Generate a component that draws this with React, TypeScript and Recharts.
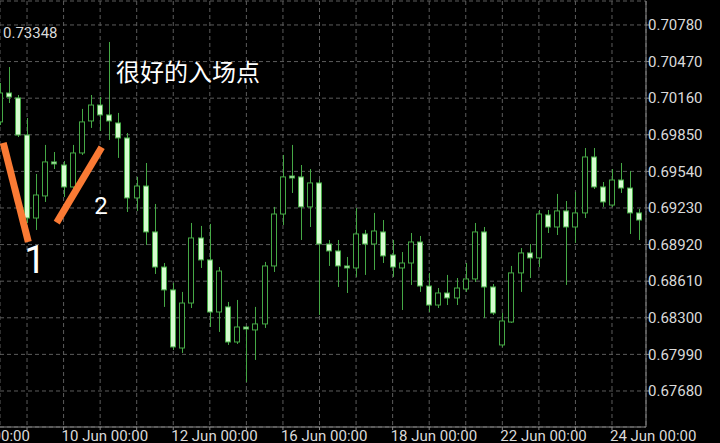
import React from 'react';
import { ComposedChart, Bar, XAxis, YAxis, CartesianGrid, ReferenceLine } from 'recharts';

// H4 candles, 8 Jun .. 24 Jun
const opens = [
  0.69959, 0.70204, 0.70162, 0.69848, 0.69145, 0.69332, 0.69620, 0.69594, 0.69408, 0.69696,
  0.69967, 0.70102, 0.70018, 0.69950, 0.69823, 0.69315, 0.69416, 0.69027, 0.68730, 0.68536,
  0.68044, 0.68425, 0.68976, 0.68790, 0.68349, 0.68392, 0.68095, 0.68222, 0.68197, 0.68248,
  0.68739, 0.69179, 0.69501, 0.69493, 0.69239, 0.69442, 0.68925, 0.68866, 0.68739, 0.68722,
  0.69010, 0.68925, 0.69027, 0.68832, 0.68722, 0.68764, 0.68942, 0.68569, 0.68408, 0.68510,
  0.68468, 0.68544, 0.68629, 0.69027, 0.68561, 0.68070, 0.68264, 0.68680, 0.68849, 0.68807,
  0.69171, 0.69069, 0.69205, 0.69069, 0.69188, 0.69662, 0.69408, 0.69255, 0.69467, 0.69399,
  0.69188,
];
const highs = [
  0.70289, 0.70424, 0.70187, 0.69992, 0.69518, 0.69764, 0.69704, 0.69628, 0.69764, 0.70069,
  0.70187, 0.70170, 0.70636, 0.70035, 0.69865, 0.69493, 0.69611, 0.69264, 0.68764, 0.68595,
  0.68519, 0.69103, 0.69078, 0.69095, 0.68730, 0.68434, 0.68451, 0.68231, 0.68392, 0.68773,
  0.69239, 0.69679, 0.69764, 0.69594, 0.69560, 0.69467, 0.68959, 0.68959, 0.68815, 0.69230,
  0.69044, 0.69188, 0.69128, 0.68959, 0.68857, 0.69018, 0.68993, 0.68680, 0.68552, 0.68663,
  0.68637, 0.68764, 0.69103, 0.69069, 0.68586, 0.68341, 0.68739, 0.68891, 0.68925, 0.69213,
  0.69213, 0.69349, 0.69289, 0.69366, 0.69738, 0.69738, 0.69450, 0.69560, 0.69611, 0.69543,
  0.69222,
];
const lows = [
  0.69933, 0.70119, 0.69831, 0.69103, 0.69044, 0.69281, 0.69560, 0.69323, 0.69383, 0.69679,
  0.69908, 0.69882, 0.69806, 0.69654, 0.69196, 0.69205, 0.68917, 0.68671, 0.68392, 0.68027,
  0.68002, 0.68383, 0.68722, 0.68222, 0.68180, 0.68070, 0.68078, 0.67756, 0.67943, 0.68214,
  0.68688, 0.69086, 0.69357, 0.68959, 0.69069, 0.68324, 0.68739, 0.68561, 0.68510, 0.68646,
  0.68663, 0.68705, 0.68764, 0.68646, 0.68366, 0.68578, 0.68519, 0.68349, 0.68383, 0.68408,
  0.68408, 0.68519, 0.68603, 0.68298, 0.68324, 0.68053, 0.68256, 0.68519, 0.68637, 0.68730,
  0.69018, 0.69001, 0.68578, 0.68934, 0.69145, 0.69391, 0.69239, 0.69239, 0.69357, 0.69010,
  0.68959,
];
const closes = [
  0.70204, 0.70170, 0.69848, 0.69145, 0.69340, 0.69620, 0.69603, 0.69408, 0.69696, 0.69959,
  0.70102, 0.70018, 0.69967, 0.69823, 0.69315, 0.69416, 0.69027, 0.68730, 0.68536, 0.68053,
  0.68425, 0.68976, 0.68790, 0.68349, 0.68696, 0.68095, 0.68222, 0.68205, 0.68248, 0.68739,
  0.69179, 0.69493, 0.69484, 0.69239, 0.69442, 0.68925, 0.68866, 0.68739, 0.68722, 0.69010,
  0.68925, 0.69035, 0.68824, 0.68730, 0.68764, 0.68942, 0.68569, 0.68408, 0.68510, 0.68468,
  0.68552, 0.68629, 0.69027, 0.68561, 0.68341, 0.68273, 0.68680, 0.68849, 0.68807, 0.69179,
  0.69069, 0.69205, 0.69069, 0.69188, 0.69662, 0.69408, 0.69281, 0.69467, 0.69399, 0.69188,
  0.69128,
];

const xLabelIdx = [-5, 7, 19, 31, 43, 55, 67];
const xLabelText = ['8 Jun 00:00', '10 Jun 00:00', '12 Jun 00:00', '16 Jun 00:00', '18 Jun 00:00', '22 Jun 00:00', '24 Jun 00:00'];
const xGridIdx = [-5, -1, 3, 7, 11, 15, 19, 23, 27, 31, 35, 39, 43, 47, 51, 55, 59, 63, 67];
const yTicks = [0.6768, 0.6799, 0.683, 0.6861, 0.6892, 0.6923, 0.6954, 0.6985, 0.7016, 0.7047, 0.7078];
const xDomain = [0.044, 70.72];
const yDomain = [0.67375, 0.70983];

const annotLine1 = [{ x: 0.40, y: 0.69781 }, { x: 3.14, y: 0.68942 }];
const annotLine2 = [{ x: 6.25, y: 0.69106 }, { x: 11.17, y: 0.69744 }];

const data = opens.map((o, i) => ({
  i,
  o,
  h: highs[i],
  l: lows[i],
  c: closes[i],
  range: [lows[i], highs[i]],
}));

const WICK = '#45a845';
const BEAR_FILL = '#d6fcd0';
const FRAME = '#8a8a8a';
const LABEL = '#dadada';
const ORANGE = '#fa7a34';

const Candle = (props: any) => {
  const { x, y, width, height, payload } = props;
  if (x == null || y == null || !payload) return <g />;
  const top = Math.min(y, y + height);
  const hgt = Math.abs(height);
  const { o, h, l, c } = payload;
  const span = h - l;
  const toY = (v: number) => (span > 0 ? top + ((h - v) / span) * hgt : top);
  const cx = Math.floor(x + width / 2) + 0.5;
  const yo = toY(o);
  const yc = toY(c);
  const bodyTop = Math.min(yo, yc);
  const bodyH = Math.max(Math.abs(yc - yo), 1);
  const bull = c >= o;
  return (
    <g>
      <line x1={cx} x2={cx} y1={top} y2={top + hgt} stroke={WICK} strokeWidth={1} />
      <rect
        x={cx - 3}
        y={bodyTop}
        width={5}
        height={bodyH}
        fill={bull ? '#000' : BEAR_FILL}
        stroke={WICK}
        strokeWidth={1}
      />
    </g>
  );
};

const XTick = (props: any) => {
  const { x, y, payload } = props;
  const k = xLabelIdx.indexOf(payload.value);
  if (k < 0) return <g />;
  return (
    <text x={x - 2} y={y} dy={10} textAnchor="start" fill={LABEL} fontSize={15} fontFamily="Roboto">
      {xLabelText[k]}
    </text>
  );
};

const YTick = (props: any) => {
  const { x, y, payload } = props;
  return (
    <text x={x - 1} y={y} dy="0.35em" textAnchor="start" fill={LABEL} fontSize={15} fontFamily="Roboto">
      {payload.value.toFixed(5)}
    </text>
  );
};

export default function App() {
  return (
    <div
      style={{
        position: 'absolute',
        left: 0,
        top: 0,
        width: 720,
        height: 443,
        background: '#000',
        overflow: 'hidden',
        fontFamily: 'Roboto',
      }}
    >
      <ComposedChart width={720} height={443} data={data} margin={{ top: 1, right: 0, bottom: 0, left: 0 }}>
        <CartesianGrid stroke="#5c5c5c" strokeDasharray="4 3" />
        <XAxis
          dataKey="i"
          type="number"
          domain={xDomain}
          allowDataOverflow
          ticks={xGridIdx}
          interval={0}
          height={16}
          axisLine={{ stroke: FRAME }}
          tickLine={{ stroke: FRAME }}
          tickSize={3}
          tickMargin={1}
          tick={<XTick />}
        />
        <XAxis
          xAxisId="top"
          orientation="top"
          type="number"
          domain={xDomain}
          allowDataOverflow
          height={0}
          tick={false}
          tickLine={false}
          axisLine={{ stroke: FRAME }}
        />
        <YAxis
          orientation="right"
          type="number"
          domain={yDomain}
          allowDataOverflow
          ticks={yTicks}
          interval={0}
          width={74}
          axisLine={{ stroke: FRAME }}
          tickLine={{ stroke: FRAME }}
          tickSize={3}
          tickMargin={0}
          tick={<YTick />}
        />
        <Bar dataKey="range" barSize={6} isAnimationActive={false} shape={(p: any) => <Candle {...p} />} />
        <ReferenceLine segment={annotLine1} stroke={ORANGE} strokeWidth={7} ifOverflow="visible" />
        <ReferenceLine segment={annotLine2} stroke={ORANGE} strokeWidth={7} ifOverflow="visible" />
      </ComposedChart>
      <svg
        width={720}
        height={443}
        style={{ position: 'absolute', left: 0, top: 0, pointerEvents: 'none' }}
      >
        <text x={3} y={38} fill={LABEL} fontSize={15} fontFamily="Roboto">0.73348</text>
        <text x={116} y={81} fill="#ffffff" fontSize={24} fontFamily="'Noto Sans CJK SC'">很好的入场点</text>
        <text x={35} y={273} textAnchor="middle" fill="#ffffff" fontSize={38} fontFamily="Roboto">1</text>
        <text x={101} y={214} textAnchor="middle" fill="#ffffff" fontSize={24} fontFamily="Roboto">2</text>
      </svg>
    </div>
  );
}
